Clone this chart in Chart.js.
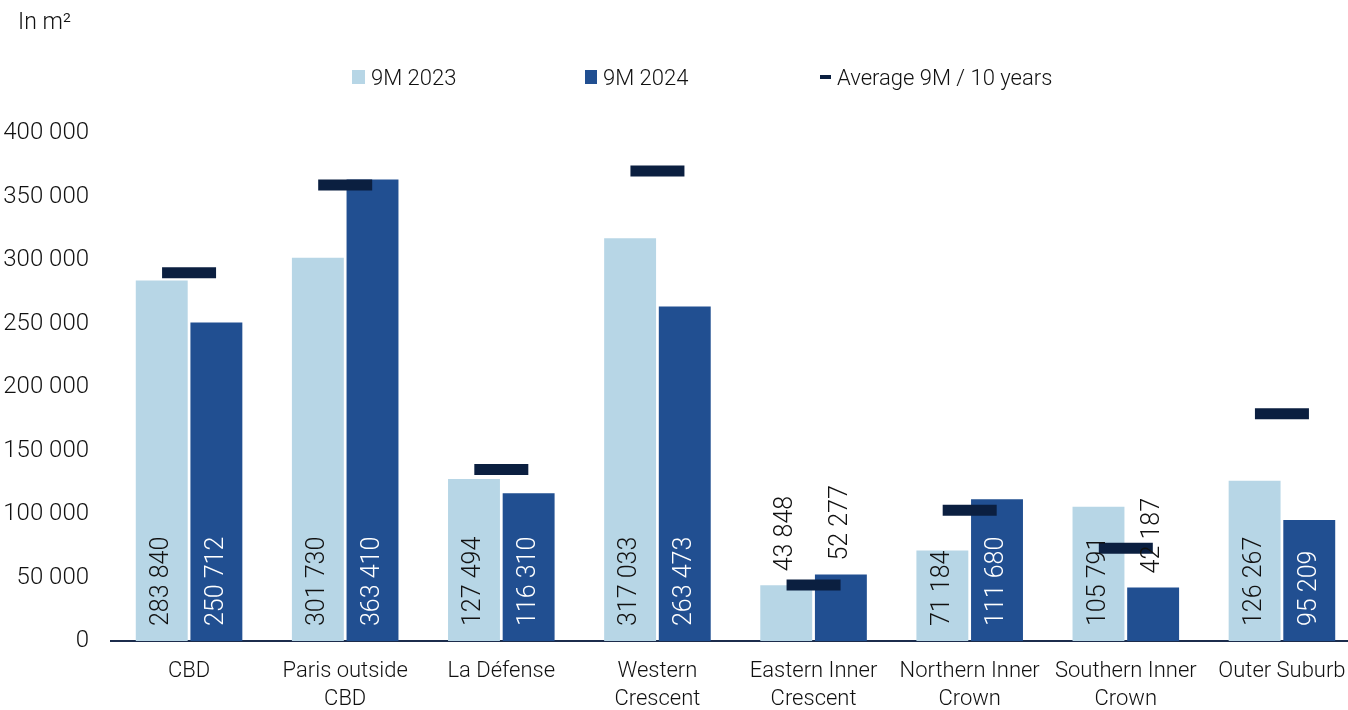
<!DOCTYPE html>
<html>
<head>
<meta charset="utf-8">
<script src="https://cdn.jsdelivr.net/npm/chart.js@4.4.1/dist/chart.umd.min.js"></script>
<style>
  html, body { margin: 0; padding: 0; background: #fff; overflow: hidden; }
  body { width: 1348px; height: 710px; position: relative; font-family: Roboto, sans-serif; font-weight: 300; color: #111; }
  #chart { position: absolute; left: 0; top: 0; }
  .unit { position: absolute; left: 18px; top: 8px; font-size: 23px; }
  .legend { position: absolute; top: 64px; font-size: 22px; line-height: 28px; white-space: nowrap; }
  .legend i { display: inline-block; vertical-align: middle; margin-right: 6px; position: relative; top: -2px; }
</style>
</head>
<body>
<canvas id="chart" width="1362" height="710"></canvas>
<div class="unit">In m²</div>
<div class="legend" style="left:352px"><i style="width:13px;height:14px;background:#b7d6e6"></i>9M 2023</div>
<div class="legend" style="left:585px"><i style="width:12px;height:14px;background:#214f91"></i>9M 2024</div>
<div class="legend" style="left:820px"><i style="width:11px;height:4px;background:#0b1f40"></i>Average 9M / 10 years</div>
<script>
// take-up per sector, in m²
const sectors = [
    ['CBD'], ['Paris outside', 'CBD'], ['La Défense'], ['Western', 'Crescent'],
    ['Eastern Inner', 'Crescent'], ['Northern Inner', 'Crown'], ['Southern Inner', 'Crown'], ['Outer Suburb']
];
const takeUp2023 = [283840, 301730, 127494, 317033, 43848, 71184, 105791, 126267];
const takeUp2024 = [250712, 363410, 116310, 263473, 52277, 111680, 42187, 95209];
const avg10Years = [290000, 359000, 135000, 370000, 44000, 103000, 73000, 179000];
const yTicks = [0, 50000, 100000, 150000, 200000, 250000, 300000, 350000, 400000];

const LIGHT = '#b7d6e6';
const DARK = '#214f91';
const NAVY = '#0b1f40';

// 283840 -> "283 840"
function spaced(n) {
    return String(n).replace(/\B(?=(\d{3})+(?!\d))/g, ' ');
}

// vertical value labels on the two bar series (datasets 0 and 1),
// inside the bar when it fits, otherwise on top of it
const barLabels = {
    id: 'barLabels',
    afterDatasetsDraw(chart) {
        const ctx = chart.ctx;
        ctx.save();
        ctx.font = '300 25px Roboto';
        ctx.textAlign = 'left';
        ctx.textBaseline = 'middle';
        [0, 1].forEach(function(di) {
            const meta = chart.getDatasetMeta(di);
            const values = chart.data.datasets[di].data;
            meta.data.forEach(function(bar, i) {
                const txt = spaced(values[i]);
                const w = ctx.measureText(txt).width;
                const h = bar.base - bar.y;
                let start, color;
                if (h >= w + 10) {
                    start = bar.base - 15;
                    color = di === 0 ? '#111' : '#fff';
                } else {
                    start = bar.y - 14;
                    color = '#111';
                }
                ctx.save();
                ctx.translate(bar.x, start);
                ctx.rotate(-Math.PI / 2);
                ctx.fillStyle = color;
                ctx.fillText(txt, 0, 0);
                ctx.restore();
            });
        });
        ctx.restore();
    }
};

const ctx = document.getElementById('chart').getContext('2d');

const takeUpChart = new Chart(ctx, {
    data: {
        labels: sectors,
        datasets: [
            {
                type: 'bar',
                label: '9M 2023',
                data: takeUp2023,
                backgroundColor: LIGHT,
                categoryPercentage: 0.7,
                barPercentage: 0.95,
                order: 1
            },
            {
                type: 'bar',
                label: '9M 2024',
                data: takeUp2024,
                backgroundColor: DARK,
                categoryPercentage: 0.7,
                barPercentage: 0.95,
                order: 1
            },
            {
                // average shown as a short horizontal dash per sector
                type: 'line',
                label: 'Average 9M / 10 years',
                data: avg10Years,
                showLine: false,
                pointStyle: 'line',
                pointRadius: 27,
                pointHoverRadius: 27,
                pointBorderWidth: 11,
                pointHoverBorderWidth: 11,
                borderColor: NAVY,
                backgroundColor: NAVY,
                order: 0
            }
        ]
    },
    options: {
        responsive: false,
        animation: false,
        layout: { autoPadding: false, padding: { top: 133, left: 0, right: 2, bottom: 0 } },
        plugins: {
            legend: { display: false },
            tooltip: { enabled: false }
        },
        scales: {
            x: {
                grid: { display: false, drawTicks: false },
                border: { display: true, color: '#1c2c4c', width: 2 },
                ticks: {
                    color: '#111',
                    padding: 16,
                    maxRotation: 0,
                    autoSkip: false,
                    font: { family: 'Roboto', size: 22, weight: 300, lineHeight: 1.3 }
                },
                afterFit: function(scale) { scale.height = 69; }
            },
            y: {
                min: 0,
                max: 400000,
                afterBuildTicks: function(scale) {
                    scale.ticks = yTicks.map(function(v) { return { value: v }; });
                },
                grid: { display: false, drawTicks: false },
                border: { display: false },
                ticks: {
                    color: '#111',
                    padding: 22,
                    font: { family: 'Roboto', size: 24, weight: 300 },
                    callback: function(v) { return spaced(v); }
                },
                afterFit: function(scale) { scale.width = 111; }
            }
        }
    },
    plugins: [barLabels]
});
</script>
</body>
</html>
